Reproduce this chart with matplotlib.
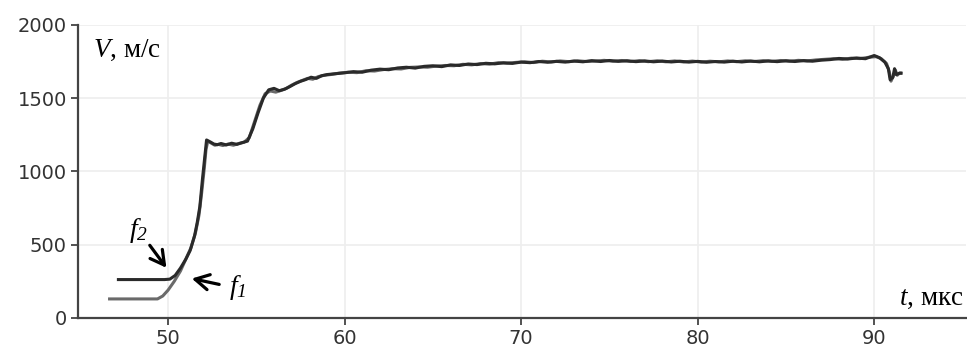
import matplotlib
matplotlib.use("Agg")
import matplotlib.pyplot as plt

plt.rcParams['mathtext.fontset'] = 'custom'
plt.rcParams['mathtext.rm'] = 'Liberation Serif:italic'
plt.rcParams['mathtext.it'] = 'Liberation Serif:italic'

# ---- data ----
t_f2 = [47.1, 48.0, 49.0, 49.8, 50.1, 50.4, 50.7, 51.0, 51.25, 51.5, 51.65, 51.8, 51.95, 52.08, 52.18,
        52.4, 52.6, 52.8, 53.0, 53.3, 53.6, 53.9, 54.2, 54.5, 54.8, 55.1, 55.4, 55.7, 56.0, 56.3,
        56.6, 56.9, 57.2, 57.5, 57.8, 58.1, 58.4, 58.7, 59.0, 59.5,
        60.0, 60.5, 61.0, 61.5, 62.0, 62.5, 63.0, 63.5, 64.0, 64.5, 65.0, 65.5, 66.0, 66.5,
        67.0, 67.5, 68.0, 68.5, 69.0, 69.5, 70.0, 70.5, 71.0, 71.5, 72.0, 72.5, 73.0, 73.5,
        74.0, 74.5, 75.0, 75.5, 76.0, 76.5, 77.0, 77.5, 78.0, 78.5, 79.0, 79.5, 80.0, 80.5,
        81.0, 81.5, 82.0, 82.5, 83.0, 83.5, 84.0, 84.5, 85.0, 85.5, 86.0, 86.5, 87.0, 87.5,
        88.0, 88.5, 89.0, 89.5, 90.0, 90.3, 90.6, 90.8, 90.9, 91.05, 91.15, 91.25, 91.4, 91.6]
v_f2 = [262, 262, 262, 262, 265, 290, 340, 400, 460, 560, 650, 760, 950, 1100, 1214,
        1200, 1186, 1182, 1190, 1180, 1192, 1184, 1196, 1206, 1290, 1400, 1500, 1556, 1566, 1550,
        1560, 1578, 1598, 1614, 1626, 1642, 1634, 1652, 1660, 1666,
        1672, 1680, 1676, 1690, 1697, 1693, 1705, 1710, 1704, 1716, 1720, 1714, 1726, 1722,
        1732, 1728, 1737, 1733, 1740, 1736, 1745, 1741, 1749, 1744, 1750, 1745, 1752, 1747,
        1755, 1749, 1756, 1750, 1754, 1748, 1753, 1747, 1752, 1746, 1751, 1745, 1750, 1744,
        1749, 1745, 1751, 1746, 1752, 1747, 1753, 1748, 1754, 1749, 1755, 1751, 1758, 1762,
        1770, 1766, 1773, 1768, 1790, 1775, 1745, 1700, 1625, 1640, 1700, 1660, 1668, 1670]

t_f1 = [46.6, 47.5, 48.5, 49.4, 49.7, 50.0, 50.35, 50.7, 51.0, 51.3, 51.55, 51.75, 51.9, 52.05, 52.15, 52.25,
        52.45, 52.65, 52.85, 53.1, 53.4, 53.7, 54.0, 54.3, 54.6, 54.9, 55.2, 55.5, 55.8, 56.1, 56.4,
        56.7, 57.0, 57.3, 57.6, 57.9, 58.2, 58.5, 58.8, 59.2, 59.7,
        60.2, 60.7, 61.2, 61.7, 62.2, 62.7, 63.2, 63.7, 64.2, 64.7, 65.2, 65.7, 66.2, 66.7,
        67.2, 67.7, 68.2, 68.7, 69.2, 69.7, 70.2, 70.7, 71.2, 71.7, 72.2, 72.7, 73.2, 73.7,
        74.2, 74.7, 75.2, 75.7, 76.2, 76.7, 77.2, 77.7, 78.2, 78.7, 79.2, 79.7, 80.2, 80.7,
        81.2, 81.7, 82.2, 82.7, 83.2, 83.7, 84.2, 84.7, 85.2, 85.7, 86.2, 86.7, 87.2, 87.7,
        88.2, 88.7, 89.2, 89.7, 90.1, 90.4, 90.7, 90.85, 90.95, 91.1, 91.2, 91.3, 91.45, 91.6]
v_f1 = [130, 130, 130, 130, 150, 190, 250, 320, 400, 480, 580, 700, 850, 1020, 1150, 1205,
        1192, 1178, 1184, 1176, 1186, 1178, 1190, 1198, 1230, 1340, 1450, 1530, 1548, 1540, 1552,
        1566, 1588, 1606, 1620, 1634, 1628, 1646, 1654, 1660, 1670,
        1676, 1673, 1686, 1684, 1694, 1700, 1698, 1709, 1712, 1710, 1718, 1722, 1720, 1730,
        1726, 1735, 1731, 1741, 1738, 1743, 1747, 1742, 1751, 1746, 1753, 1748, 1754, 1749,
        1752, 1757, 1751, 1756, 1749, 1755, 1748, 1754, 1747, 1753, 1746, 1752, 1745, 1751,
        1747, 1753, 1748, 1754, 1749, 1755, 1750, 1756, 1751, 1757, 1753, 1760, 1764, 1768,
        1764, 1772, 1769, 1778, 1782, 1768, 1735, 1680, 1615, 1655, 1690, 1655, 1672, 1668]

x_ticks = [50, 60, 70, 80, 90]
y_ticks = [0, 500, 1000, 1500, 2000]

fig = plt.figure(figsize=(9.67, 3.47), dpi=100)
ax = fig.add_axes([0.0807, 0.0836, 0.9183, 0.8452])

ax.plot(t_f1, v_f1, color='#6a6a6a', lw=2.2, solid_capstyle='butt', zorder=3)
ax.plot(t_f2, v_f2, color='#2a2a2a', lw=2.2, solid_capstyle='butt', zorder=4)

ax.set_xlim(44.9, 95.2)
ax.set_ylim(0, 2000)
ax.set_xticks(x_ticks)
ax.set_yticks(y_ticks)
ax.grid(True, color='#eeeeee', lw=1.2, zorder=0)
ax.set_axisbelow(True)
for s in ['top', 'right']:
    ax.spines[s].set_visible(False)
for s in ['left', 'bottom']:
    ax.spines[s].set_color('#444444')
    ax.spines[s].set_linewidth(1.6)
ax.tick_params(axis='both', colors='#444444', width=1.3, length=5, labelsize=14,
               labelcolor='#333333', pad=3)

ax.text(0.0165, 0.955, r'$V$, м/с', transform=ax.transAxes, fontsize=19.5,
        family='Liberation Serif', ha='left', va='top', color='black')
ax.text(0.997, 0.025, r'$t$, мкс', transform=ax.transAxes, fontsize=19.5,
        family='Liberation Serif', ha='right', va='bottom', color='black')

ax.text(48.3, 600, r'$f_2$', fontsize=20, ha='center', va='center', color='black')
ax.text(53.95, 205, r'$f_1$', fontsize=20, ha='center', va='center', color='black')
ax.annotate('', xy=(50.0, 327), xytext=(48.87, 511),
            arrowprops=dict(arrowstyle='->,head_length=1.0,head_width=0.55', lw=2.3, color='black'))
ax.annotate('', xy=(51.19, 273), xytext=(53.05, 225),
            arrowprops=dict(arrowstyle='->,head_length=1.0,head_width=0.55', lw=2.3, color='black'))

fig.savefig('out.png', dpi=100)
